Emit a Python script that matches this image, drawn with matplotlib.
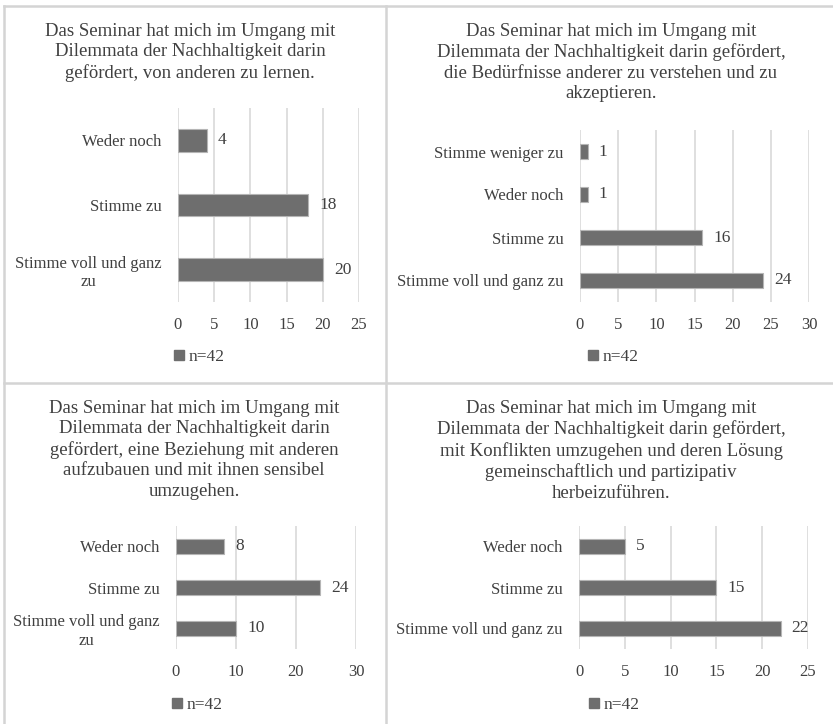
import matplotlib
matplotlib.use("agg")
import matplotlib.pyplot as plt
from matplotlib.lines import Line2D

# Umfrageergebnisse (n=42)
titles = [
    "Das Seminar hat mich im Umgang mit\nDilemmata der Nachhaltigkeit darin\ngefördert, von anderen zu lernen.",
    "Das Seminar hat mich im Umgang mit\nDilemmata der Nachhaltigkeit darin gefördert,\ndie Bedürfnisse anderer zu verstehen und zu\nakzeptieren.",
    "Das Seminar hat mich im Umgang mit\nDilemmata der Nachhaltigkeit darin\ngefördert, eine Beziehung mit anderen\naufzubauen und mit ihnen sensibel\numzugehen.",
    "Das Seminar hat mich im Umgang mit\nDilemmata der Nachhaltigkeit darin gefördert,\nmit Konflikten umzugehen und deren Lösung\ngemeinschaftlich und partizipativ\nherbeizuführen.",
]
cats_1 = ["Weder noch", "Stimme zu", "Stimme voll und ganz\nzu"]
vals_1 = [4, 18, 20]
cats_2 = ["Stimme weniger zu", "Weder noch", "Stimme zu", "Stimme voll und ganz zu"]
vals_2 = [1, 1, 16, 24]
cats_3 = ["Weder noch", "Stimme zu", "Stimme voll und ganz\nzu"]
vals_3 = [8, 24, 10]
cats_4 = ["Weder noch", "Stimme zu", "Stimme voll und ganz zu"]
vals_4 = [5, 15, 22]
ticks_1 = [0, 5, 10, 15, 20, 25]
ticks_2 = [0, 5, 10, 15, 20, 25, 30]
ticks_3 = [0, 10, 20, 30]
ticks_4 = [0, 5, 10, 15, 20, 25]
legend_label = "n=42"

W, H = 833, 724
plt.rcParams["font.family"] = ["Liberation Serif", "DejaVu Serif"]
TXT = "#404040"
BAR = "#6e6e6e"
GRID = "#d9d9d9"
FS = 12

fig = plt.figure(figsize=(W / 100, H / 100), dpi=100)


def px_axes(x0, y0, x1, y1):
    # pixel box (origin top-left) -> figure fraction
    return fig.add_axes([x0 / W, 1 - y1 / H, (x1 - x0) / W, (y1 - y0) / H])


def panel(box, title, title_x, title_y, cats, vals, ticks, leg_x, leg_y):
    ax = px_axes(*box)
    pos = list(range(len(cats)))
    ax.barh(pos, vals, height=0.35, color=BAR, edgecolor="#b5b5b5",
            linewidth=0.8, label=legend_label, zorder=3)
    ax.set_ylim(len(cats) - 0.5, -0.5)
    ax.set_xlim(ticks[0], ticks[-1])
    ax.set_xticks(ticks)
    ax.set_yticks(pos)
    ax.set_yticklabels(cats, multialignment="center")
    ax.tick_params(axis="both", length=0, labelsize=FS, labelcolor=TXT)
    ax.tick_params(axis="y", pad=12)
    ax.tick_params(axis="x", pad=11)
    ax.grid(axis="x", color=GRID, linewidth=1.2, zorder=0)
    for s in ax.spines.values():
        s.set_visible(False)
    for p, v in zip(pos, vals):
        ax.annotate(str(v), (v, p), xytext=(8, 0), textcoords="offset points",
                    va="center", ha="left", fontsize=FS + 0.5, color=TXT)
    fig.text(title_x / W, 1 - title_y / H, title, ha="center", va="top",
             fontsize=13.5, color=TXT, linespacing=1.26)
    handle = Line2D([], [], marker="s", linestyle="none", color=BAR, markersize=6.5)
    fig.legend([handle], [legend_label], loc="center", frameon=False,
               bbox_to_anchor=(leg_x / W, 1 - leg_y / H), fontsize=FS + 0.5,
               labelcolor=TXT, handlelength=0.5, handletextpad=0.3,
               borderaxespad=0, borderpad=0)
    return ax


panel((178, 108, 359, 302), titles[0], 190, 23, cats_1, vals_1, ticks_1, 200, 357)
panel((580, 130, 809, 302), titles[1], 611, 23, cats_2, vals_2, ticks_2, 614, 357)
panel((176, 526, 356, 649), titles[2], 194, 400, cats_3, vals_3, ticks_3, 198, 705)
panel((579, 526, 808, 649), titles[3], 611, 400, cats_4, vals_4, ticks_4, 615, 705)

# panel frame lines
frame = dict(color="#d4d4d4", linewidth=1.8, transform=fig.transFigure)
fig.add_artist(Line2D([4 / W, 1], [1 - 6 / H, 1 - 6 / H], **frame))
fig.add_artist(Line2D([4 / W, 4 / W], [0, 1 - 6 / H], **frame))
fig.add_artist(Line2D([386 / W, 386 / W], [0, 1 - 6 / H], **frame))
fig.add_artist(Line2D([4 / W, 1], [1 - 383 / H, 1 - 383 / H], **frame))

fig.savefig("out.png", dpi=100)
